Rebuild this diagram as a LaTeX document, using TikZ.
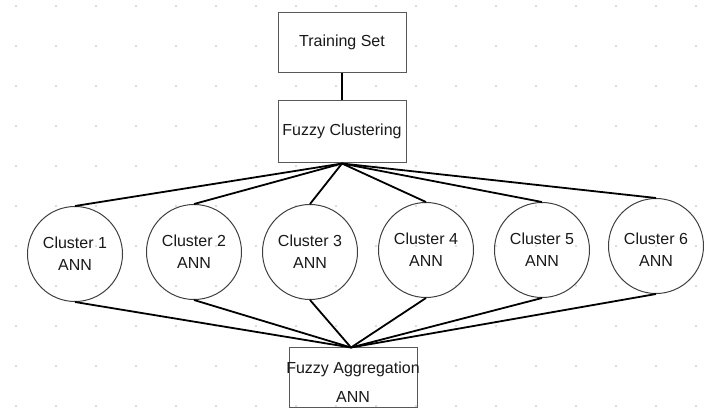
\documentclass[tikz,border=0pt]{standalone}
\usepackage{fontspec}
\setmainfont{Liberation Sans}
\begin{document}
\begin{tikzpicture}[x=1pt,y=-1pt,
  box/.style={draw=black!65, line width=1pt, minimum width=128pt, minimum height=60pt, inner sep=0pt, align=center, text=black!90,
    font=\fontsize{16}{26}\selectfont},
  ann/.style={draw=black!75, line width=1pt, circle, minimum size=95pt, inner sep=0pt, align=center, text=black!90,
    font=\fontsize{16}{22}\selectfont},
  link/.style={line width=1.8pt, black}]
\useasboundingbox (0,0) rectangle (723,413);
\fill[white] (0,0) rectangle (723,413);
% background grid dots
\foreach \i in {0,...,17}{
  \foreach \j in {0,...,10}{
    \fill[black!18] (16+40*\i, 6+40*\j) circle (1.1pt);
  }
}
\node[box] (ts) at (342,42) {Training Set};
\node[box, minimum height=62pt] (fc) at (342,131) {Fuzzy Clustering};
\node[box] (fa) at (353,377) {\rule{0pt}{22pt}\makebox[0pt]{Fuzzy Aggregation}\\[3pt]ANN};
\node[ann] (c1) at (75,254) {Cluster 1\\ANN};
\node[ann] (c2) at (194,252) {Cluster 2\\ANN};
\node[ann] (c3) at (310,252) {Cluster 3\\ANN};
\node[ann] (c4) at (426,250) {Cluster 4\\ANN};
\node[ann] (c5) at (542,250) {Cluster 5\\ANN};
\node[ann] (c6) at (656,246) {\rule{0pt}{18pt}Cluster 6\\ANN};
\coordinate (fcb) at ([yshift=-1pt]fc.south);
\coordinate (fat) at ([xshift=-2pt,yshift=-1pt]fa.north);
\draw[link] (ts.south) -- (fc.north);
\foreach \c in {c1,c2,c3,c4,c5,c6}{
  \draw[link] (fcb) -- (\c.north);
  \draw[link] (\c.south) -- (fat);
}
\end{tikzpicture}
\end{document}
